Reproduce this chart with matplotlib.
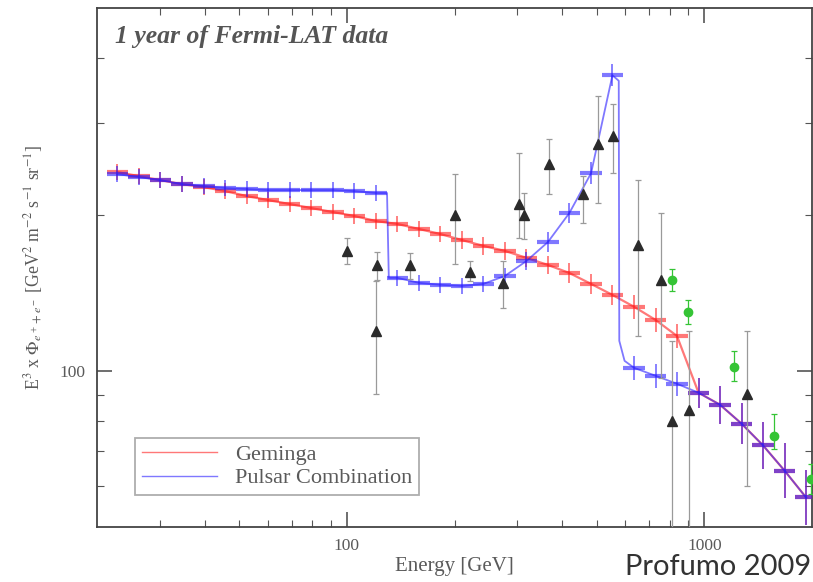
import numpy as np
import matplotlib
matplotlib.use("Agg")
import matplotlib.pyplot as plt
from matplotlib.ticker import FixedLocator, NullFormatter, FuncFormatter

plt.rcParams['font.family'] = ['Liberation Serif', 'DejaVu Serif']
plt.rcParams['mathtext.fontset'] = 'stix'

# Energie-Bins (GeV), gemeinsam fuer beide Modelle
energy = [22.8, 26.2, 30.1, 34.6, 39.8, 45.7, 52.5, 60.3, 69.2, 79.5, 91.3,
          104.9, 120.5, 138.4, 159.0, 182.6, 209.7, 240.9, 276.7, 317.8, 365.0,
          419.0, 482.0, 553.0, 636.0, 730.0, 838.0, 963.0, 1106.0, 1270.0,
          1459.0, 1676.0, 1925.0]

# Geminga: E^3 x Flux pro Bin
geminga = [241.4, 237.1, 232.9, 228.8, 225.8, 221.9, 217.0, 213.2, 209.5, 205.8,
           202.2, 198.7, 194.3, 191.8, 187.6, 183.4, 178.6, 174.0, 170.2, 165.0,
           159.9, 154.3, 147.0, 140.0, 132.8, 125.3, 116.7, 90.7, 86.0, 79.1,
           71.8, 64.2, 57.0]
geminga_relerr = [0.035] * 16 + [0.04] * 5 + [0.045] * 3 + [0.055] * 3 + \
                 [0.07, 0.088, 0.097, 0.11, 0.13, 0.13]

# Pulsar-Kombination
pulsars = [239.2, 236.1, 232.9, 228.8, 226.9, 224.9, 223.9, 222.9, 222.9, 222.9,
           222.9, 221.9, 220.0, 151.0, 147.7, 146.4, 145.7, 147.0, 152.3, 162.7,
           177.0, 201.3, 240.3, 370.9, 101.3, 97.8, 94.4, 90.7, 86.0, 79.1,
           71.8, 64.2, 57.0]
pulsars_relerr = [0.035] * 19 + [0.04, 0.045, 0.045, 0.05, 0.05] + [0.055] * 3 + \
                 [0.07, 0.088, 0.097, 0.11, 0.13, 0.13]

# Modellkurve der Pulsar-Kombination (mit den scharfen Kanten)
pulsar_curve_e = [22.8, 26.2, 30.1, 34.6, 39.8, 45.7, 52.5, 60.3, 69.2, 79.5, 91.3,
                  104.9, 120.5, 129.5, 131.0, 138.4, 159.0, 182.6, 209.7, 240.9,
                  276.7, 317.8, 365.0, 419.0, 482.0, 553.0, 576.0, 578.0, 598.0,
                  636.0, 730.0, 838.0, 963.0, 1106.0, 1270.0, 1459.0, 1676.0, 1925.0]
pulsar_curve_f = [239.2, 236.1, 232.9, 228.8, 226.9, 224.9, 223.9, 222.9, 222.9, 222.9,
                  222.9, 221.9, 220.0, 220.0, 151.0, 151.0, 147.7, 146.4, 145.7, 147.0,
                  152.3, 162.7, 177.0, 201.3, 240.3, 370.9, 362.0, 114.2, 104.5,
                  101.3, 97.8, 94.4, 90.7, 86.0, 79.1, 71.8, 64.2, 57.0]

# Fermi-LAT Messpunkte (Dreiecke): Wert, untere und obere Grenze
lat_e = [100.0, 121.3, 120.6, 150.2, 200.7, 221.1, 273.5, 303.2, 313.2, 368.1,
         458.3, 504.9, 556.2, 653.3, 757.9, 813.6, 907.8, 1319.7]
lat_f = [170.2, 159.9, 119.4, 159.9, 199.5, 155.0, 147.6, 209.5, 199.5, 250.1,
         219.0, 273.3, 283.0, 174.7, 149.6, 80.1, 84.1, 90.3]
lat_lo = [160.6, 149.6, 90.3, 150.3, 160.6, 149.0, 132.2, 180.3, 179.5, 219.0,
          192.6, 210.4, 240.3, 116.7, 97.0, 30.0, 30.0, 60.1]
lat_hi = [180.3, 169.3, 149.0, 168.6, 239.2, 162.7, 162.7, 262.6, 220.0, 279.4,
          237.1, 338.0, 326.2, 232.9, 201.3, 114.2, 119.4, 119.4]

# gruene Punkte
grn_e = [813.6, 902.1, 1213.4, 1560.9, 1993.0]
grn_f = [149.6, 129.9, 101.8, 75.0, 62.0]
grn_lo = [142.5, 123.1, 95.7, 70.8, 58.0]
grn_hi = [157.1, 136.9, 109.3, 82.7, 66.0]

RED = '#ff1e1e'
BLUE = '#2a1eff'
TXT = '#5a5a5a'

fig = plt.figure(figsize=(8.13, 5.82), dpi=100)
ax = fig.add_axes([0.1193, 0.0945, 0.8795, 0.8918])
ax.set_xscale('log')
ax.set_yscale('log')

E = np.array(energy)
half = 10 ** 0.0301  # halbe Bin-Breite in log
xerr = [E - E / half, E * half - E]


def draw_model(flux, relerr, color, zorder):
    f = np.array(flux)
    r = np.array(relerr)
    ax.errorbar(E, f, xerr=xerr, fmt='none', ecolor=color, elinewidth=3.0,
                alpha=0.6, zorder=zorder)
    ax.errorbar(E, f, yerr=[f - f / (1 + r), f * r], fmt='none', ecolor=color,
                elinewidth=1.3, alpha=0.6, zorder=zorder)


# Geminga
ax.plot(energy, geminga, color=RED, lw=1.6, alpha=0.6, zorder=3, label='Geminga')
draw_model(geminga, geminga_relerr, RED, 3)

# Pulsar-Kombination
ax.plot(pulsar_curve_e, pulsar_curve_f, color=BLUE, lw=1.3, alpha=0.6, zorder=4,
        label='Pulsar Combination')
draw_model(pulsars, pulsars_relerr, BLUE, 4)

# Messpunkte
lf = np.array(lat_f)
ax.errorbar(lat_e, lat_f, yerr=[lf - np.array(lat_lo), np.array(lat_hi) - lf],
            fmt='^', color='#2b2b2b', ms=6.5, ecolor='#9a9a9a', elinewidth=0.9,
            capsize=2.5, capthick=0.9, zorder=5)
gf = np.array(grn_f)
ax.errorbar(grn_e, grn_f, yerr=[gf - np.array(grn_lo), np.array(grn_hi) - gf],
            fmt='o', color='#35c435', ms=6, ecolor='#35c435', elinewidth=0.9,
            capsize=2.5, capthick=0.9, zorder=6)

ax.set_xlim(20, 2000)
ax.set_ylim(50, 500)

# Achsen, Ticks
for s in ax.spines.values():
    s.set_color('#444444')
    s.set_linewidth(1.3)
ax.xaxis.set_major_locator(FixedLocator([100, 1000]))
ax.yaxis.set_major_locator(FixedLocator([100]))
ax.xaxis.set_minor_locator(FixedLocator([30, 40, 50, 60, 70, 80, 90,
                                         200, 300, 400, 500, 600, 700, 800, 900]))
ax.yaxis.set_minor_locator(FixedLocator([60, 70, 80, 90, 200, 300, 400]))
fmt = FuncFormatter(lambda v, p: f'{v:.0f}')
ax.xaxis.set_major_formatter(fmt)
ax.yaxis.set_major_formatter(fmt)
ax.xaxis.set_minor_formatter(NullFormatter())
ax.yaxis.set_minor_formatter(NullFormatter())
ax.tick_params(which='both', direction='in', top=True, right=True,
               color='#555555', labelcolor=TXT, labelsize=12.5)
ax.tick_params(which='major', length=11, width=1.2, pad=8)
ax.tick_params(which='minor', length=5, width=0.8)

ax.set_xlabel('Energy [GeV]', fontsize=15, color=TXT, labelpad=2)
ax.set_ylabel(r'E$^3$ x $\Phi_{e^+ + e^-}$ [GeV$^2$ m$^{-2}$ s$^{-1}$ sr$^{-1}$]',
              fontsize=12.8, color=TXT, labelpad=11)

ax.text(0.025, 0.933, '1 year of Fermi-LAT data', transform=ax.transAxes,
        fontsize=18.5, fontweight='bold', fontstyle='italic', color='#555555',
        va='baseline', ha='left')

leg = ax.legend(loc='lower left', bbox_to_anchor=(0.053, 0.0617), fontsize=16,
                frameon=True, fancybox=False, handlelength=3.4, borderpad=0.3,
                labelspacing=0.12, handletextpad=0.8, borderaxespad=0)
leg.get_frame().set_edgecolor('#999999')
leg.get_frame().set_linewidth(1.3)
for t in leg.get_texts():
    t.set_color(TXT)
for h in leg.get_lines():
    h.set_linewidth(1.0)

fig.text(0.9975, 0.0115, 'Profumo 2009', fontsize=21, family='Lato', color='#333333',
         ha='right', va='baseline')

fig.savefig('out.png', dpi=100)
